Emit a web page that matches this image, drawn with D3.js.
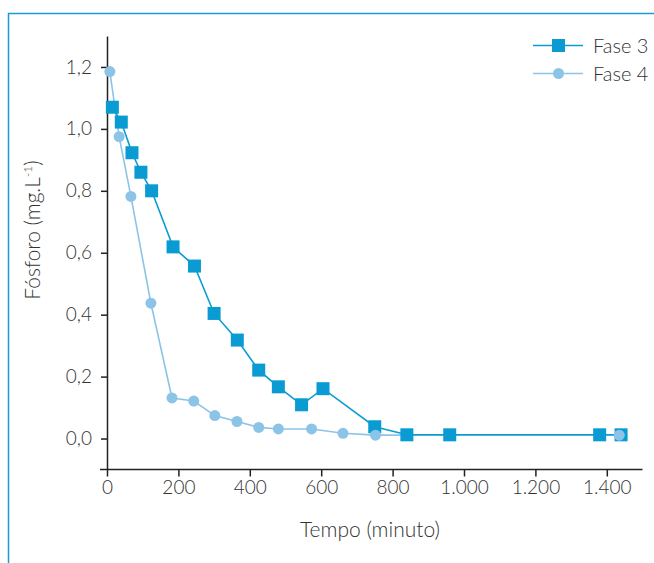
<!DOCTYPE html>
<html>
<head>
<meta charset="utf-8">
<script src="https://cdn.jsdelivr.net/npm/d3@7"></script>
<style>
  body { margin: 0; background: #fff; }
  text { font-family: Lato, "Open Sans", sans-serif; font-weight: 300; fill: #333; }
</style>
</head>
<body>
<div class="customChart"></div>
<script>
// Fase 3 (squares)
const fase3Time = [15, 40, 70, 95, 125, 185, 245, 300, 365, 425, 480, 545, 605, 750, 840, 960, 1380, 1440];
const fase3Value = [1.07, 1.022, 0.923, 0.86, 0.80, 0.619, 0.557, 0.404, 0.318, 0.221, 0.167, 0.109, 0.161, 0.038, 0.012, 0.012, 0.012, 0.012];
// Fase 4 (circles)
const fase4Time = [8, 34, 67, 123, 182, 243, 302, 364, 425, 480, 573, 661, 752, 1435];
const fase4Value = [1.185, 0.975, 0.782, 0.437, 0.131, 0.121, 0.074, 0.055, 0.036, 0.031, 0.031, 0.017, 0.011, 0.011];

const xTicks = [0, 200, 400, 600, 800, 1000, 1200, 1400];
const yTicks = [0, 0.2, 0.4, 0.6, 0.8, 1.0, 1.2];
const seriesNames = ["Fase 3", "Fase 4"];

const color3 = "#0a9bd3";
const color4 = "#8cc4e8";

const width = 654, height = 563;
const locale = d3.formatLocale({decimal: ",", thousands: ".", grouping: [3], currency: ["", ""]});

const svg = d3.select('.customChart')
  .append('svg')
  .attr('width', width)
  .attr('height', height);

// frame
svg.append("path")
  .attr("d", `M8.5,${height} L8.5,13.5 L${width},13.5`)
  .attr("fill", "none")
  .attr("stroke", "#1a9bd7")
  .attr("stroke-width", 1.5);

const xScale = d3.scaleLinear().domain([0, 1500]).range([107, 642.5]);
const yScale = d3.scaleLinear().domain([-0.1, 1.3]).range([469.5, 36]);

const xAxis = d3.axisBottom(xScale)
  .tickValues(xTicks)
  .tickSize(7)
  .tickSizeOuter(0)
  .tickPadding(4)
  .tickFormat(locale.format(",d"));

const bottomAxis = svg.append("g")
  .attr("transform", `translate(0, ${yScale(-0.1)})`)
  .call(xAxis);
bottomAxis.select(".domain").remove();
bottomAxis.append("line")
  .attr("x1", xScale(0) - 7)
  .attr("x2", xScale(1500))
  .attr("stroke", "#222")
  .attr("stroke-width", 1.5);

const yAxis = d3.axisLeft(yScale)
  .tickValues(yTicks)
  .tickSize(6)
  .tickSizeOuter(0)
  .tickPadding(9)
  .tickFormat(locale.format(".1f"));

const leftAxis = svg.append("g")
  .attr("transform", `translate(${xScale(0)}, 0)`)
  .call(yAxis);

svg.selectAll(".tick line").attr("stroke", "#222").attr("stroke-width", 1.5);
leftAxis.select(".domain").attr("stroke", "#222").attr("stroke-width", 1.5);
svg.selectAll(".tick text")
  .attr("font-size", 19)
  .attr("fill", "#333")
  .style("font-family", 'Lato, "Open Sans", sans-serif')
  .style("font-weight", 300);

// axis titles
svg.append("text")
  .attr("x", 370)
  .attr("y", 537)
  .attr("text-anchor", "middle")
  .attr("font-size", 21)
  .text("Tempo (minuto)");

const yTitle = svg.append("text")
  .attr("transform", `translate(40, 230) rotate(-90)`)
  .attr("text-anchor", "middle")
  .attr("font-size", 21);
yTitle.append("tspan").text("Fósforo (mg.L");
yTitle.append("tspan").attr("font-size", 12).attr("dy", -8).text("-1");
yTitle.append("tspan").attr("dy", 8).text(")");

const line = d3.line()
  .x(d => xScale(d[0]))
  .y(d => yScale(d[1]));

const data3 = fase3Time.map((t, i) => [t, fase3Value[i]]);
const data4 = fase4Time.map((t, i) => [t, fase4Value[i]]);

svg.append("path")
  .datum(data4)
  .attr("fill", "none")
  .attr("stroke", color4)
  .attr("stroke-width", 1.6)
  .attr("d", line);

svg.append("path")
  .datum(data3)
  .attr("fill", "none")
  .attr("stroke", color3)
  .attr("stroke-width", 1.6)
  .attr("d", line);

svg.append("g")
  .attr("fill", color3)
  .selectAll("rect")
  .data(data3)
  .join("rect")
  .attr("x", d => xScale(d[0]) - 6.5)
  .attr("y", d => yScale(d[1]) - 6.5)
  .attr("width", 13)
  .attr("height", 13);

svg.append("g")
  .attr("fill", color4)
  .selectAll("circle")
  .data(data4)
  .join("circle")
  .attr("cx", d => xScale(d[0]))
  .attr("cy", d => yScale(d[1]))
  .attr("r", 5.5);

// legend
const legend = svg.append("g")
  .selectAll("g")
  .data(seriesNames)
  .join("g")
  .attr("transform", (d, i) => `translate(533, ${45.5 + i * 28})`);

legend.append("line")
  .attr("x1", 0).attr("x2", 50)
  .attr("stroke", (d, i) => i === 0 ? color3 : color4)
  .attr("stroke-width", 1.6);

legend.filter((d, i) => i === 0).append("rect")
  .attr("x", 19).attr("y", -6.5)
  .attr("width", 13).attr("height", 13)
  .attr("fill", color3);

legend.filter((d, i) => i === 1).append("circle")
  .attr("cx", 25.5).attr("r", 5.5)
  .attr("fill", color4);

legend.append("text")
  .attr("x", 60)
  .attr("dy", "0.35em")
  .attr("font-size", 20)
  .text(d => d);
</script>
</body>
</html>
